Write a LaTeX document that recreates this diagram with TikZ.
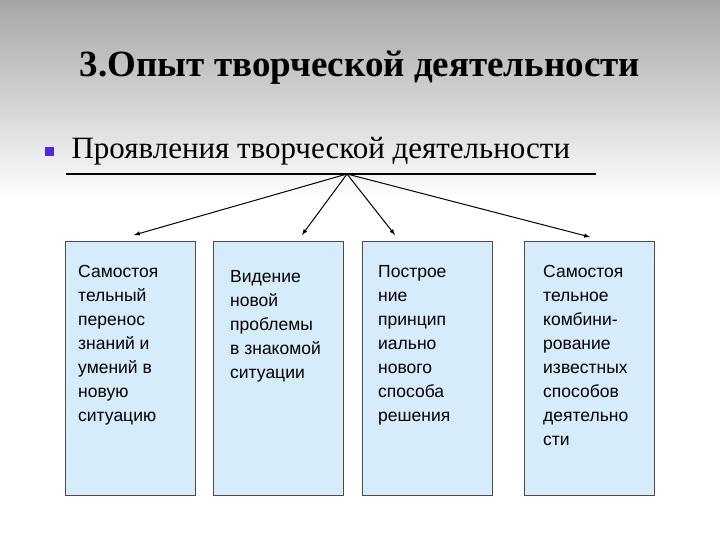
\documentclass[tikz,border=0pt]{standalone}
\usepackage{fontspec}
\setmainfont{Liberation Sans}
\newfontfamily\serifru{Liberation Serif}
\definecolor{cardfill}{RGB}{214,236,250}
\definecolor{bulcol}{RGB}{80,40,220}
\begin{document}
\begin{tikzpicture}[x=1pt,y=-1pt,
  card/.style={draw=black!70, fill=cardfill, minimum width=130pt, minimum height=254pt, anchor=north west, line width=0.7pt},
  ctext/.style={anchor=north west, align=left, font=\fontsize{17.5}{24}\selectfont, inner sep=0pt},
  arr/.style={-latex, line width=1pt}]
\useasboundingbox (0,0) rectangle (720,540);
\shade[top color=black!35, bottom color=white] (0,0) rectangle (720,200);
\node[font=\serifru\bfseries\fontsize{37}{40}\selectfont] (title) at (360,68) {3.Опыт творческой деятельности};
\node[fill=bulcol, minimum size=9pt, inner sep=0pt] (bul) at (49,152) {};
\node[font=\serifru\fontsize{31}{34}\selectfont, anchor=west] (sub) at (68,151) {Проявления творческой деятельности};
\draw[line width=2pt] (66,174) -- (596,174);
\coordinate (apex) at (347,174);
\node[card] (b1) at (65,241) {};
\node[card] (b2) at (213,241) {};
\node[card] (b3) at (362,241) {};
\node[card] (b4) at (524,241) {};
\coordinate (e1) at (134,235);
\coordinate (e2) at (302,235);
\coordinate (e3) at (395,235);
\coordinate (e4) at (590,237);
\foreach \e in {e1,e2,e3,e4} \draw[arr] (apex) -- (\e);
\node[ctext] (t1) at (78,265) {Самостоя\\тельный\\перенос\\знаний и\\умений в\\новую\\ситуацию};
\node[ctext] (t2) at (230,270) {Видение\\новой\\проблемы\\в знакомой\\ситуации};
\node[ctext] (t3) at (378,265) {Построе\\ние\\принцип\\иально\\нового\\способа\\решения};
\node[ctext] (t4) at (543,265) {Самостоя\\тельное\\комбини-\\рование\\известных\\способов\\деятельно\\сти};
\end{tikzpicture}
\end{document}
